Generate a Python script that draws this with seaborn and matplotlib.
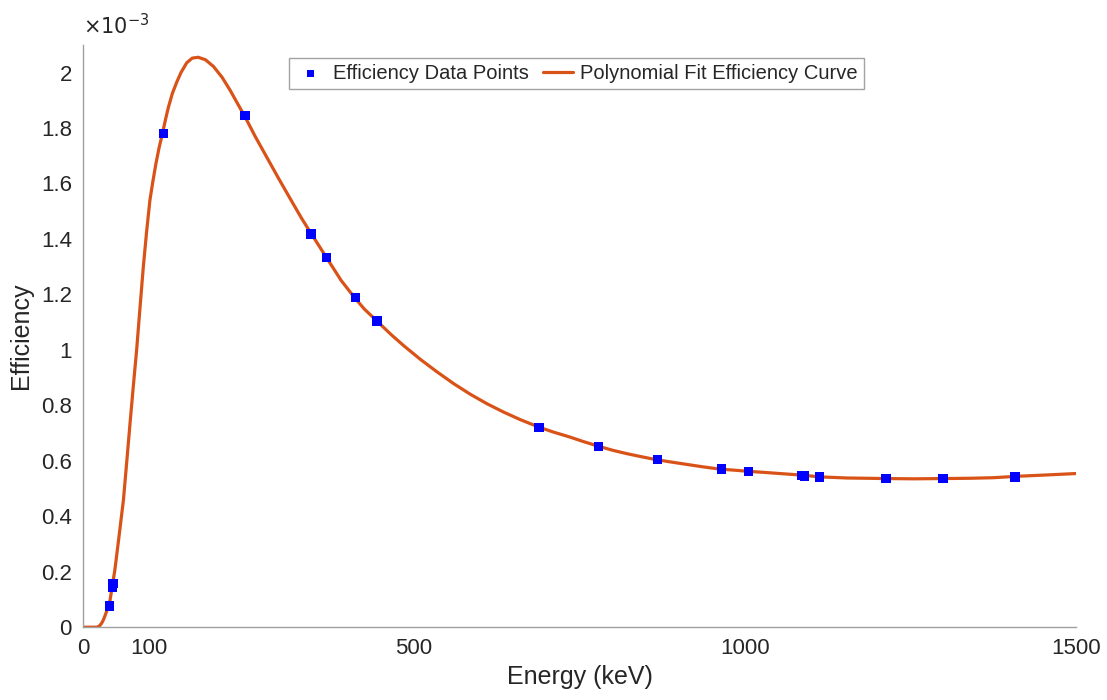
import numpy as np
import pandas as pd
import matplotlib
matplotlib.use("Agg")
import matplotlib.pyplot as plt
import seaborn as sns
from matplotlib.ticker import FuncFormatter

# measured efficiency points (energy in keV)
energy_pts = [39.5, 45.0, 45.4, 121.8, 244.7, 344.3, 367.8, 411.1, 444.0,
              688.7, 778.9, 867.4, 964.1, 1005.3, 1085.8, 1089.7, 1112.1,
              1212.9, 1299.1, 1408.0]
eff_pts = [0.077e-3, 0.142e-3, 0.158e-3, 1.780e-3, 1.845e-3, 1.418e-3,
           1.332e-3, 1.190e-3, 1.104e-3, 0.721e-3, 0.652e-3, 0.604e-3,
           0.571e-3, 0.561e-3, 0.548e-3, 0.545e-3, 0.542e-3, 0.536e-3,
           0.536e-3, 0.542e-3]

# fitted curve (x1e-3)
energy_fit = [0, 20, 22, 25, 28, 30.5, 33, 37, 40.8, 44, 48, 54, 61, 66,
              71, 76, 81, 86, 91, 96, 101, 105, 110, 115, 120, 125, 129,
              135, 141.5, 148, 156.6, 165, 174, 185, 197, 210, 222, 233,
              245, 260, 277.5, 295, 313, 330, 345, 368, 390, 409, 425, 444,
              465, 484, 510, 534, 560, 585, 610, 635, 660, 688, 710, 735,
              755, 778, 800, 821, 845, 866, 890, 912, 937, 962, 985, 1005,
              1030, 1053, 1088, 1113, 1154, 1213, 1255, 1300, 1340, 1375,
              1410, 1456, 1500]
eff_fit = [0, 0, 0.001, 0.005, 0.014, 0.025, 0.04, 0.066, 0.097, 0.145,
           0.205, 0.32, 0.458, 0.595, 0.735, 0.87, 1.00, 1.15, 1.297,
           1.425, 1.539, 1.60, 1.67, 1.73, 1.78, 1.835, 1.875, 1.925,
           1.965, 2.0, 2.035, 2.052, 2.055, 2.046, 2.022, 1.983, 1.937,
           1.89, 1.839, 1.77, 1.695, 1.62, 1.545, 1.475, 1.418, 1.332,
           1.25, 1.192, 1.147, 1.104, 1.056, 1.016, 0.965, 0.922, 0.878,
           0.840, 0.806, 0.776, 0.749, 0.722, 0.704, 0.686, 0.670, 0.653,
           0.638, 0.626, 0.614, 0.604, 0.595, 0.587, 0.578, 0.570, 0.566,
           0.562, 0.558, 0.554, 0.548, 0.542, 0.538, 0.536, 0.535, 0.536,
           0.537, 0.539, 0.544, 0.549, 0.554]
eff_fit = [v * 1e-3 for v in eff_fit]

x_ticks = [0, 100, 500, 1000, 1500]
y_ticks = [i * 0.2e-3 for i in range(11)]

sns.set_style("white")
plt.rcParams['font.family'] = ['Liberation Sans', 'DejaVu Sans']

fig = plt.figure(figsize=(11.07, 7.0), dpi=100)
ax = fig.add_axes([0.075, 0.104, 0.897, 0.832])

pts = pd.DataFrame({'E': energy_pts, 'eff': eff_pts})
fit = pd.DataFrame({'E': energy_fit, 'eff': eff_fit})

sns.lineplot(data=fit, x='E', y='eff', color='#D95319', lw=2.3, ax=ax,
             label='Polynomial Fit Efficiency Curve', zorder=2, sort=False)
sns.scatterplot(data=pts, x='E', y='eff', marker='s', color='#0000FF',
                s=45, edgecolor='none', ax=ax,
                label='Efficiency Data Points', zorder=3)

ax.set_xlim(0, 1500)
ax.set_ylim(0, 2.1e-3)
ax.set_xticks(x_ticks)
ax.set_yticks(y_ticks)
ax.yaxis.set_major_formatter(FuncFormatter(lambda v, p: f"{v / 1e-3:g}"))

for side in ['top', 'right']:
    ax.spines[side].set_visible(False)
for side in ['left', 'bottom']:
    ax.spines[side].set_color('#a0a0a0')
    ax.spines[side].set_linewidth(1.0)
ax.tick_params(direction='in', length=6, width=1.0, color='#808080',
               labelsize=16, labelcolor='#262626', pad=8)

ax.set_xlabel('Energy (keV)', fontsize=18, color='#262626', labelpad=4)
ax.set_ylabel('Efficiency', fontsize=18, color='#262626', labelpad=6)
ax.text(0.0, 1.012, r'$\times10^{-3}$', transform=ax.transAxes,
        fontsize=15, color='#262626', ha='left', va='bottom')

handles, labels = ax.get_legend_handles_labels()
order = [1, 0]
leg = ax.legend([handles[i] for i in order], [labels[i] for i in order],
                loc='upper center', bbox_to_anchor=(0.497, 0.978), ncol=2,
                fontsize=14.5, frameon=True, fancybox=False, handlelength=1.5,
                handletextpad=0.35, columnspacing=0.7, borderpad=0.3,
                borderaxespad=0, markerscale=0.8)
leg.get_frame().set_edgecolor('#8c8c8c')
leg.get_frame().set_linewidth(1.0)

fig.savefig('out.png', dpi=100)
